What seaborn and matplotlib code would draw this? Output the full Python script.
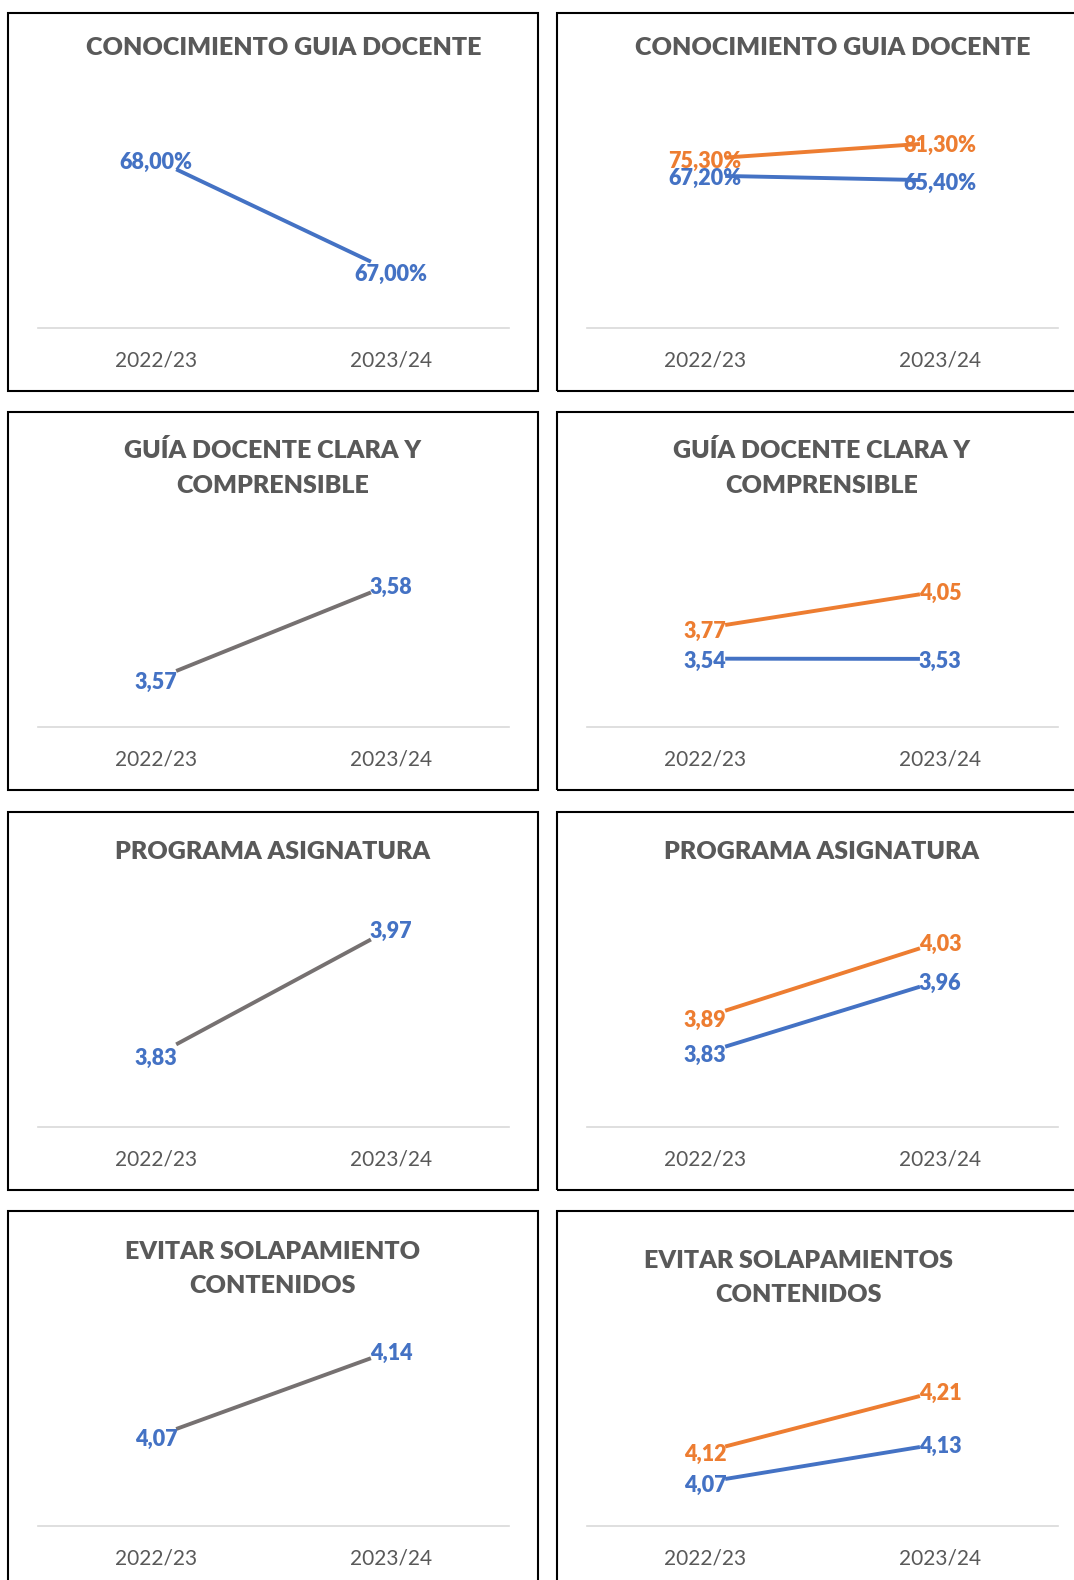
import matplotlib
matplotlib.use("Agg")
import matplotlib.pyplot as plt
from matplotlib.patches import Rectangle
import seaborn as sns
import pandas as pd

# ---------------- data ----------------
categories = ["2022/23", "2023/24"]

titles_left = ["CONOCIMIENTO GUIA DOCENTE",
               "GUÍA DOCENTE CLARA Y\nCOMPRENSIBLE",
               "PROGRAMA ASIGNATURA",
               "EVITAR SOLAPAMIENTO\nCONTENIDOS"]
titles_right = ["CONOCIMIENTO GUIA DOCENTE",
                "GUÍA DOCENTE CLARA Y\nCOMPRENSIBLE",
                "PROGRAMA ASIGNATURA",
                "EVITAR SOLAPAMIENTOS\nCONTENIDOS"]

# left column (single series)
conocimiento_left = [68.00, 67.00]
guia_clara_left = [3.57, 3.58]
programa_left = [3.83, 3.97]
solapamiento_left = [4.07, 4.14]

# right column (two series: blue / orange)
conocimiento_blue = [67.20, 65.40]
conocimiento_orange = [75.30, 81.30]
guia_clara_blue = [3.54, 3.53]
guia_clara_orange = [3.77, 4.05]
programa_blue = [3.83, 3.96]
programa_orange = [3.89, 4.03]
solapamiento_blue = [4.07, 4.13]
solapamiento_orange = [4.12, 4.21]

left_series = [conocimiento_left, guia_clara_left, programa_left, solapamiento_left]
right_blue = [conocimiento_blue, guia_clara_blue, programa_blue, solapamiento_blue]
right_orange = [conocimiento_orange, guia_clara_orange, programa_orange, solapamiento_orange]
is_percent = [True, False, False, False]

# ---------------- style / layout ----------------
BLUE = "#4472C4"
ORANGE = "#ED7D31"
GRAY_LINE = "#767171"
TEXT_GRAY = "#595959"
AXIS_GRAY = "#D9D9D9"

left_line_colors = [BLUE, GRAY_LINE, GRAY_LINE, GRAY_LINE]

ylim_left = [(66.278, 68.984), (3.562824, 3.594631), (3.71923, 4.05288), (3.9737, 4.2209)]
ylim_right_blue = [(0, 110.2), (0, 12.88), (3.6551, 4.1968), (3.9811, 4.4499)]
ylim_right_orange = [(0, 110.2), (2.836, 5.116), (3.6282, 4.1891), (3.9776, 4.4232)]

W, H = 1074, 1580
panel_x = [8, 557]
panel_top = [13, 412, 812, 1211]
panel_w, panel_h = 530, 378
plot_dx, plot_w = 30.3, 470.5
base_dy, plot_h = 315.4, 250
title_pos_left = [(284, 48.3), (273, 468.0), (273, 852.3), (273, 1269.0)]
title_pos_right = [(833, 48.3), (822, 468.0), (822, 852.3), (799, 1278.0)]

XPTS = [0.0, 1.0]
XLIM = (-0.708, 1.708)
XTICKS = [-0.104, 1.104]

sns.set_style("white")
plt.rcParams["font.family"] = ["Lato", "DejaVu Sans"]

fig = plt.figure(figsize=(W / 100, H / 100), dpi=100)
fig.patch.set_facecolor("white")


def fmt(v, pct):
    s = f"{v:.2f}".replace(".", ",")
    return s + "%" if pct else s


def add_labels(ax, vals, color, pct):
    v0, v1 = vals
    for xl, va_ in zip(XTICKS, [v0, v1]):
        yl = v0 + (v1 - v0) * xl
        ax.annotate(fmt(va_, pct), xy=(xl, yl), xytext=(0, -2), textcoords="offset points",
                    color=color, fontsize=15.5, fontweight="heavy",
                    ha="center", va="center", annotation_clip=False, zorder=5)


def make_axes(px, pt, ylim):
    ax = fig.add_axes([(px + plot_dx) / W, 1 - (pt + base_dy) / H, plot_w / W, plot_h / H])
    ax.set_facecolor("none")
    ax.set_xlim(*XLIM)
    ax.set_ylim(*ylim)
    for s in ["top", "right", "left"]:
        ax.spines[s].set_visible(False)
    ax.spines["bottom"].set_color(AXIS_GRAY)
    ax.spines["bottom"].set_linewidth(1.2)
    ax.set_yticks([])
    ax.set_xticks(XTICKS)
    ax.set_xticklabels(categories)
    ax.tick_params(axis="x", length=0, pad=16, labelsize=15, labelcolor=TEXT_GRAY)
    ax.set_xlabel("")
    ax.set_ylabel("")
    return ax


def draw_series(ax, vals, color):
    df = pd.DataFrame({"x": XPTS, "y": vals})
    sns.lineplot(data=df, x="x", y="y", ax=ax, color=color, linewidth=2.8,
                 solid_capstyle="butt", legend=False)
    ax.set_xlabel("")
    ax.set_ylabel("")


for r in range(4):
    # panel frames
    for c in range(2):
        fig.add_artist(Rectangle((panel_x[c] / W, 1 - (panel_top[r] + panel_h) / H),
                                 panel_w / W, panel_h / H, transform=fig.transFigure,
                                 fill=False, edgecolor="black", linewidth=1.5, zorder=10))

    # left panel
    ax = make_axes(panel_x[0], panel_top[r], ylim_left[r])
    draw_series(ax, left_series[r], left_line_colors[r])
    ax.set_xlim(*XLIM)
    ax.set_ylim(*ylim_left[r])
    add_labels(ax, left_series[r], BLUE, is_percent[r])
    tx, ty = title_pos_left[r]
    fig.text(tx / W, 1 - ty / H, titles_left[r], ha="center", va="center",
             fontsize=18, fontweight="heavy", color=TEXT_GRAY, linespacing=1.68)

    # right panel
    ax = make_axes(panel_x[1], panel_top[r], ylim_right_blue[r])
    ax2 = ax.twinx()
    ax2.set_facecolor("none")
    for s in ["top", "right", "left", "bottom"]:
        ax2.spines[s].set_visible(False)
    draw_series(ax, right_blue[r], BLUE)
    draw_series(ax2, right_orange[r], ORANGE)
    ax.set_xlim(*XLIM)
    ax.set_ylim(*ylim_right_blue[r])
    ax2.set_ylim(*ylim_right_orange[r])
    ax2.set_yticks([])
    add_labels(ax, right_blue[r], BLUE, is_percent[r])
    add_labels(ax2, right_orange[r], ORANGE, is_percent[r])
    tx, ty = title_pos_right[r]
    fig.text(tx / W, 1 - ty / H, titles_right[r], ha="center", va="center",
             fontsize=18, fontweight="heavy", color=TEXT_GRAY, linespacing=1.68)

fig.savefig("out.png", dpi=100, facecolor="white")
